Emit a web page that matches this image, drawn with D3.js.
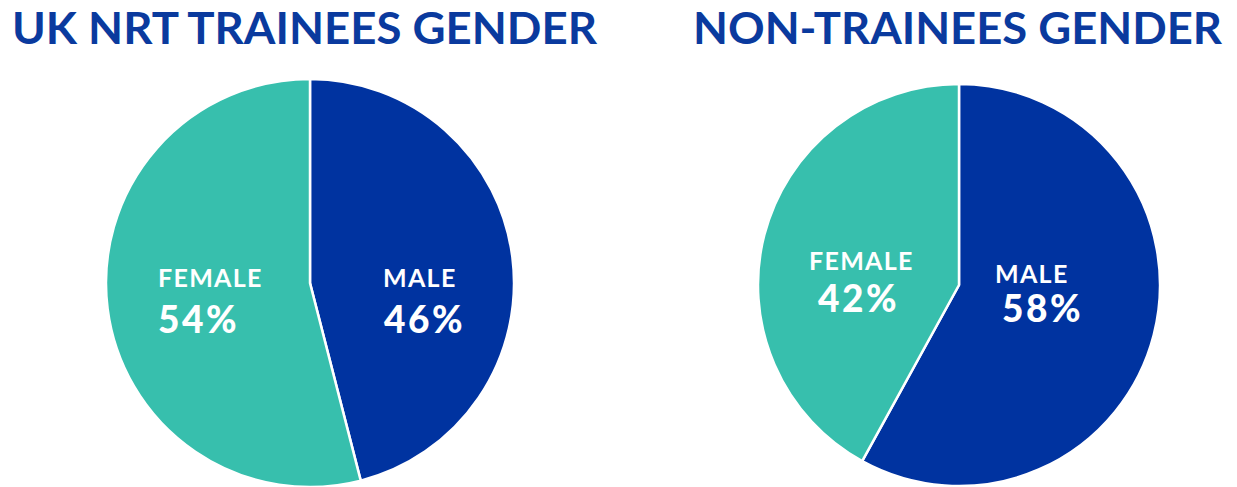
<!DOCTYPE html>
<html>
<head>
<meta charset="utf-8">
<script src="https://cdn.jsdelivr.net/npm/d3@7"></script>
<style>
body { margin: 0; background: #fff; }
</style>
</head>
<body>
<div id="viz"></div>
<script>
var width = 1237;
var height = 487;

// data
var genders = ["MALE", "FEMALE"];
var traineeShare = [46, 54];
var nonTraineeShare = [58, 42];
var chartTitles = ["UK NRT TRAINEES GENDER", "NON-TRAINEES GENDER"];

var color = d3.scaleOrdinal()
	.domain(genders)
	.range(["#0033a0", "#37bfad"]);

var canvas = d3.select("#viz")
	.append("svg")
	.attr("width", width)
	.attr("height", height);

// layout for each pie: centre, radius, title box, label anchors (offsets from centre)
var charts = [
	{title: chartTitles[0], values: traineeShare, cx: 310, cy: 283, r: 204,
		tx: 12, tw: 585,
		labels: {MALE: [[73, 4], [74, 50]], FEMALE: [[-152, 4], [-152, 50]]}},
	{title: chartTitles[1], values: nonTraineeShare, cx: 959, cy: 285, r: 201,
		tx: 693, tw: 529,
		labels: {MALE: [[36, -2], [43, 37]], FEMALE: [[-150, -15], [-141, 27]]}}
];

var pie = d3.pie()
	.sort(null)
	.value(function(d){return d.value;});

charts.forEach(function(c){
	var data = genders.map(function(g, i){return {gender: g, value: c.values[i]};});

	canvas.append("text")
		.attr("x", c.tx)
		.attr("y", 44)
		.attr("font-family", "Lato")
		.attr("font-weight", 700)
		.attr("font-size", 44)
		.attr("fill", "#0a3a9e")
		.attr("textLength", c.tw)
		.attr("lengthAdjust", "spacingAndGlyphs")
		.text(c.title);

	var arc = d3.arc()
		.innerRadius(0)
		.outerRadius(c.r);

	var g = canvas.append("g")
		.attr("transform", "translate(" + c.cx + "," + c.cy + ")");

	g.selectAll("path")
		.data(pie(data))
		.enter()
			.append("path")
			.attr("d", arc)
			.attr("fill", function(d){return color(d.data.gender);})
			.attr("stroke", "#fff")
			.attr("stroke-width", 2.5);

	var lab = g.selectAll("g.lab")
		.data(pie(data))
		.enter()
			.append("g")
			.attr("class", "lab");

	lab.append("text")
		.attr("x", function(d){return c.labels[d.data.gender][0][0];})
		.attr("y", function(d){return c.labels[d.data.gender][0][1];})
		.attr("font-family", "Lato")
		.attr("font-weight", 700)
		.attr("font-size", 25)
		.attr("letter-spacing", 1.3)
		.attr("fill", "#fff")
		.text(function(d){return d.data.gender;});

	lab.append("text")
		.attr("x", function(d){return c.labels[d.data.gender][1][0];})
		.attr("y", function(d){return c.labels[d.data.gender][1][1];})
		.attr("font-family", "Lato")
		.attr("font-weight", 900)
		.attr("font-size", 37)
		.attr("letter-spacing", 2.5)
		.attr("fill", "#fff")
		.text(function(d){return d.data.value + "%";});
});
</script>
</body>
</html>
